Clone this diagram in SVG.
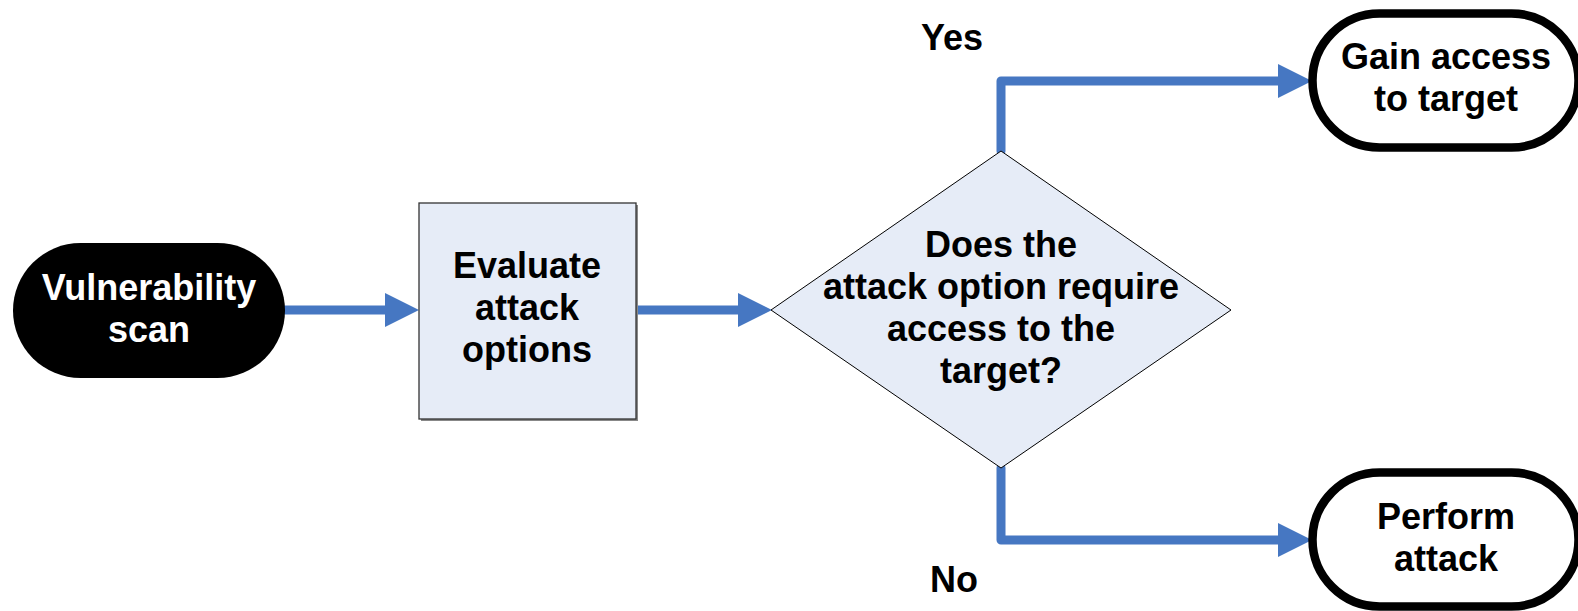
<svg xmlns="http://www.w3.org/2000/svg" width="1578" height="611" viewBox="0 0 1578 611">
  <style>
    .t { font-family: "Liberation Sans", Arial, sans-serif; font-weight: bold; font-size: 36px; text-anchor: middle; fill: #000; }
    .tw { fill: #fff; }
    .conn { fill: none; stroke: #4677C2; stroke-width: 9; stroke-linecap: round; stroke-linejoin: round; }
    .term { fill: #fff; stroke: #000; stroke-width: 8.5; }
    .proc { fill: #E6ECF7; stroke: #333; stroke-width: 1.3; }
    .dec { fill: #E6ECF7; stroke: #000; stroke-width: 1; }
  </style>
  <defs>
    <marker id="ah" viewBox="0 0 34 34" markerWidth="34" markerHeight="34" refX="0" refY="17" orient="auto" markerUnits="userSpaceOnUse">
      <path d="M0,0 L34,17 L0,34 Z" fill="#4677C2"/>
    </marker>
  </defs>
  <rect width="1578" height="611" fill="#fff"/>

  <g id="connectors">
    <path class="conn" d="M285,310 H385" marker-end="url(#ah)"/>
    <path class="conn" d="M633,310 H738" marker-end="url(#ah)"/>
    <path class="conn" d="M1001,151 V81 H1278" marker-end="url(#ah)"/>
    <path class="conn" d="M1001,468 V540 H1278" marker-end="url(#ah)"/>
  </g>

  <g id="vulnerability-scan">
    <rect x="13" y="243" width="272" height="135" rx="67.5" ry="67.5" fill="#000"/>
    <text class="t tw" x="149" y="300">Vulnerability</text>
    <text class="t tw" x="149" y="342">scan</text>
  </g>

  <g id="evaluate-attack-options">
    <rect x="421" y="205" width="217" height="216" fill="#888"/>
    <rect class="proc" x="419" y="203" width="217" height="216"/>
    <text class="t" x="527" y="278">Evaluate</text>
    <text class="t" x="527" y="320">attack</text>
    <text class="t" x="527" y="362">options</text>
  </g>

  <g id="decision">
    <polygon class="dec" points="1001,151 1231,310 1001,468 771,310"/>
    <text class="t" x="1001" y="257">Does the</text>
    <text class="t" x="1001" y="299">attack option require</text>
    <text class="t" x="1001" y="341">access to the</text>
    <text class="t" x="1001" y="383">target?</text>
  </g>

  <g id="label-yes">
    <text class="t" x="952" y="50">Yes</text>
  </g>
  <g id="label-no">
    <text class="t" x="954" y="592">No</text>
  </g>

  <g id="gain-access">
    <rect class="term" x="1312.5" y="13.5" width="266" height="134" rx="67" ry="67"/>
    <text class="t" x="1446" y="69">Gain access</text>
    <text class="t" x="1446" y="111">to target</text>
  </g>

  <g id="perform-attack">
    <rect class="term" x="1312.5" y="472.5" width="266" height="134" rx="67" ry="67"/>
    <text class="t" x="1446" y="529">Perform</text>
    <text class="t" x="1446" y="571">attack</text>
  </g>
</svg>
